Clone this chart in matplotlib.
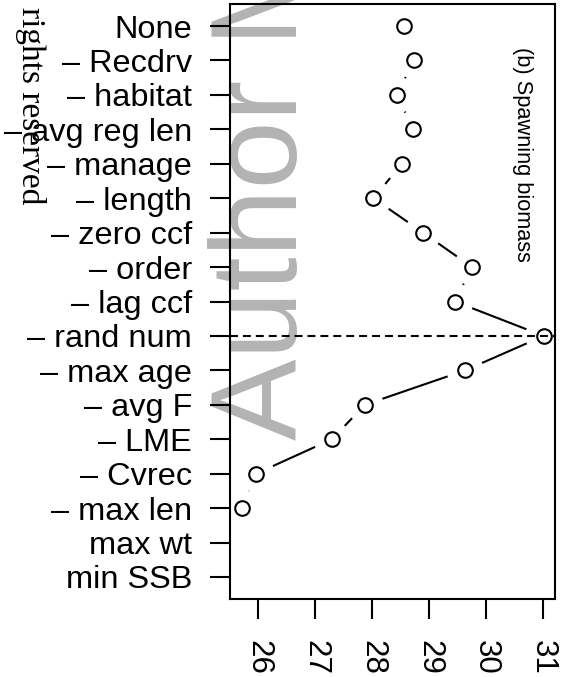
import numpy as np
import matplotlib
matplotlib.use('Agg')
import matplotlib.pyplot as plt

# categories (top to bottom) and spawning biomass values
labels = ['None', '– Recdrv', '– habitat', '– avg reg len', '– manage',
          '– length', '– zero ccf', '– order', '– lag ccf', '– rand num',
          '– max age', '– avg F', '– LME', '– Cvrec', '– max len',
          'max wt', 'min SSB']
ssb = [28.56, 28.73, 28.43, 28.72, 28.52, 28.02, 28.89, 29.75, 29.45,
       31.01, 29.63, 27.87, 27.29, 25.96, 25.71, np.nan, np.nan]
ref_label = '– rand num'
xticks = [26, 27, 28, 29, 30, 31]
panel_title = '(b) Spawning biomass'

W, H = 562, 677
plt.rcParams['font.family'] = ['Liberation Sans', 'DejaVu Sans']
fig = plt.figure(figsize=(W / 100, H / 100), dpi=100)

# watermark text behind the plot
fig.text(297 / W, 1 - 440 / H, 'Author Manuscript', rotation=90,
         rotation_mode='anchor', ha='left', va='baseline', fontsize=88,
         color='#b3b3b3', zorder=-5)
fig.text(22 / W, 1 - 7 / H, 'rights reserved', rotation=-90,
         rotation_mode='anchor', ha='left', va='baseline', fontsize=24,
         family=['Liberation Serif', 'DejaVu Serif'], color='black', zorder=-4)

ax = fig.add_axes([230 / W, 1 - 599 / H, 324.5 / W, 595 / H])
ax.set_facecolor('none')

ypos = np.arange(len(labels))
ax.set_xlim(25.50, 31.20)
ax.set_ylim(len(labels) - 1 + 0.64, -0.64)

# reference line
ax.axhline(labels.index(ref_label), color='black', lw=1.5, dashes=(3.8, 2.4))

# lines between points with gaps (like R type="b")
pts = ax.transData.transform(np.column_stack([ssb, ypos]))
inv = ax.transData.inverted()
gap = 18.5
for i in range(len(pts) - 1):
    p, q = pts[i], pts[i + 1]
    if np.isnan(p).any() or np.isnan(q).any():
        continue
    d = q - p
    L = np.hypot(d[0], d[1])
    if L <= 2 * gap:
        continue
    u = d / L
    seg = inv.transform(np.array([p + u * gap, q - u * gap]))
    ax.plot(seg[:, 0], seg[:, 1], color='black', lw=1.5, solid_capstyle='butt')

ax.plot(ssb, ypos, 'o', mfc='none', mec='black', ms=10.5, mew=1.5, clip_on=False)

ax.set_yticks(ypos)
ax.set_yticklabels(labels)
ax.set_xticks(xticks)
ax.set_xticklabels([str(t) for t in xticks], rotation=-90)
ax.tick_params(axis='y', length=14.4, width=1.5, pad=13, labelsize=23.4)
ax.tick_params(axis='x', length=14.4, width=1.5, pad=15, labelsize=22.5)
for s in ax.spines.values():
    s.set_linewidth(1.5)

ax.text(522 / W, 1 - 47 / H, panel_title, transform=fig.transFigure,
        rotation=-90, rotation_mode='anchor', ha='left', va='center',
        fontsize=15.7)

fig.savefig('out.png', dpi=100)
